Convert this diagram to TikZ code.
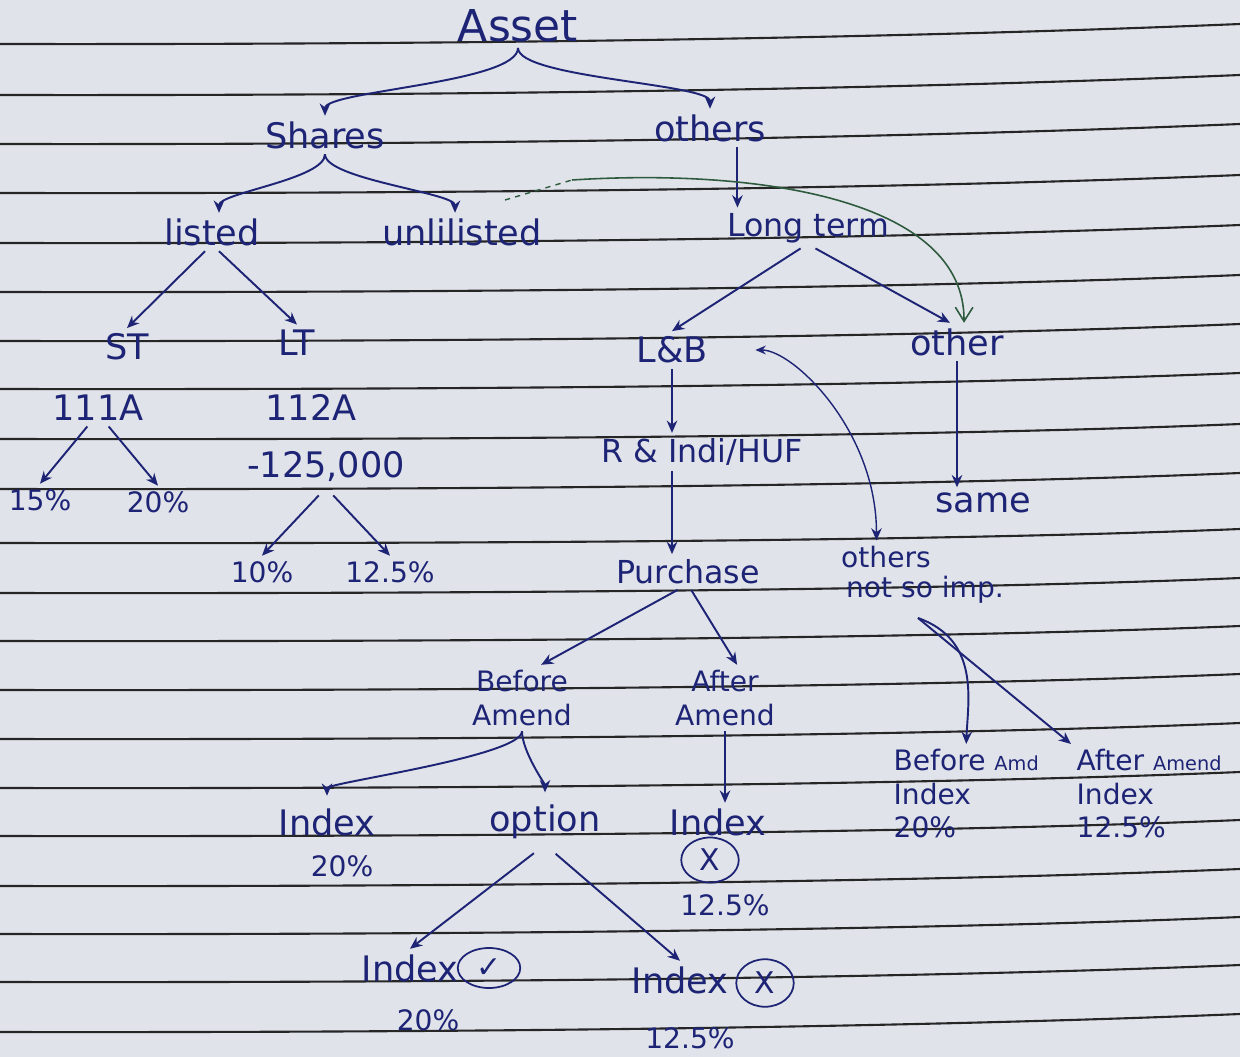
\documentclass[tikz,border=0pt]{standalone}
\usepackage{fontspec}
\setmainfont{DejaVu Sans}
\usetikzlibrary{arrows.meta,shapes.geometric}

\definecolor{ink}{HTML}{1E2475}
\definecolor{paper}{HTML}{E0E3E9}
\definecolor{pen}{HTML}{2E5A3E}

\begin{document}
\begin{tikzpicture}[x=0.02cm,y=-0.02cm,>=Stealth,
 lbl/.style={text=ink,inner sep=3pt,font=\fontsize{20}{22}\selectfont},
 sml/.style={lbl,font=\fontsize{16}{19}\selectfont},
 arr/.style={draw=ink,line width=1.1pt,-{Stealth[length=7pt,width=6pt]}},
 both/.style={arr,{Stealth[length=6pt,width=5pt]}-{Stealth[length=7pt,width=6pt]}},
 ring/.style={draw=ink,line width=1pt,ellipse,inner sep=0pt,text=ink,font=\fontsize{17}{19}\selectfont}]
\useasboundingbox (0,0) rectangle (1240,1057);
\fill[paper] (0,0) rectangle (1240,1057);
% ruled sheet, page slightly bent
\foreach \yl/\yr in {44/24,95/75,144/124,193/175,243/225,292/275,341/324,389/373,439/424,489/473,
 543/529,593/578,641/626,690/674,739/723,788/772,836/820,886/869,934/917,982/965,1032/1014}
 \draw[black!85,line width=1.2pt] (0,\yl) .. controls (600,\yl+1) and (1000,\yr+10) .. (1240,\yr);

% left part: shares
\node[lbl,font=\fontsize{25}{27}\selectfont] (asset) at (518,26) {Asset};
\node[lbl] (shares) at (325,135) {Shares};
\node[lbl] (others) at (710,128) {others};
\node[lbl] (listed) at (212,232) {listed};
\node[lbl] (unlist) at (462,232) {unlilisted};
\node[lbl] (st) at (127,347) {ST};
\node[lbl] (lt) at (297,343) {LT};
\node[lbl] (s111) at (98,408) {111A};
\node[lbl] (s112) at (311,407) {112A};
\node[sml] (p15) at (40,500) {15\%};
\node[sml] (p20) at (158,502) {20\%};
\node[lbl] (limit) at (326,467) {-125,000};
\node[sml] (p10) at (262,572) {10\%};
\node[sml] (p125) at (390,572) {12.5\%};

% right part: others
\node[lbl,font=\fontsize{18}{20}\selectfont] (longterm) at (808,228) {Long term};
\node[lbl] (lb) at (672,350) {L\&B};
\node[lbl] (other) at (957,342) {other};
\node[lbl,font=\fontsize{18}{20}\selectfont] (rindi) at (702,452) {R \& Indi/HUF};
\node[lbl] (same) at (983,503) {same};
\node[lbl,font=\fontsize{18}{20}\selectfont] (purchase) at (688,572) {Purchase};
\node[sml] (oth) at (886,557) {others};
\node[sml] (notimp) at (925,590) {not so imp.};
\node[sml,align=center] (before) at (522,698) {Before\\Amend};
\node[sml,align=center] (after) at (725,698) {After\\Amend};
\node[sml,align=left,anchor=north west] (beforer) at (888,744) {Before {\fontsize{11}{13}\selectfont Amd}\\Index\\20\%};
\node[sml,align=left,anchor=north west] (afterr) at (1071,744) {After {\fontsize{11}{13}\selectfont Amend}\\Index\\12.5\%};
\node[lbl] (idx1) at (327,822) {Index};
\node[sml] (p20b) at (342,866) {20\%};
\node[lbl] (option) at (545,822) {option};
\node[lbl] (idx2) at (718,822) {Index};
\node[ring,minimum width=1.15cm,minimum height=0.9cm] (nox1) at (710,860) {X};
\node[sml] (p125b) at (725,905) {12.5\%};
\node[lbl] (idx3) at (410,968) {Index};
\node[ring,minimum width=1.25cm,minimum height=0.8cm] (yes) at (489,968) {✓};
\node[sml] (p20c) at (428,1020) {20\%};
\node[lbl] (idx4) at (680,980) {Index};
\node[ring,minimum width=1.15cm,minimum height=0.95cm] (nox2) at (765,983) {X};
\node[sml] (p125c) at (690,1038) {12.5\%};

\draw[arr] (asset.south) .. controls +(0,35) and +(0,-25) .. (shares.north);
\draw[arr] (asset.south) .. controls +(0,30) and +(0,-25) .. (others.north);
\draw[arr] (shares.south) .. controls +(0,25) and +(0,-20) .. (listed.70);
\draw[arr] (shares.south) .. controls +(0,25) and +(0,-20) .. (unlist.110);
\draw[arr] (listed.-110)--(st.north); \draw[arr] (listed.-70)--(lt.north);
\draw[arr] (s111.-120)--(p15.north); \draw[arr] (s111.-60)--(p20.north);
\draw[arr,shorten <=6pt] (limit.south)--(p10.north); \draw[arr,shorten <=6pt] (limit.south)--(p125.north);
\draw[arr] (others.-35)--(others.-35 |- longterm.north);
\draw[arr] (longterm.-110)--(lb.north); \draw[arr] (longterm.-70)--(other.110);
\draw[arr] (lb.south)--(lb.south |- rindi.north);
\draw[arr] (rindi.south -| lb.south)--(purchase.north -| lb.south);
\draw[arr] (other.south)--(other.south |- same.north);
\draw[both,line width=0.8pt,shorten <=24pt] (lb.east) .. controls +(80,0) and +(0,-110) .. (oth.120);
\coordinate (fork) at (918,618);
\draw[arr] (fork) .. controls (980,640) and (968,700) .. (beforer.north);
\draw[arr] (fork)--(afterr.north west);
\draw[arr] (purchase.-120)--(before.60); \draw[arr] (purchase.-80)--(after.70);
\draw[arr,shorten >=4pt] (before.south) .. controls +(0,25) and +(0,-20) .. (idx1.north);
\draw[arr,shorten >=4pt] (before.south) .. controls +(0,20) and +(0,-15) .. (option.north);
\draw[arr] (after.south)--(after.south |- idx2.north);
\draw[arr,shorten <=8pt] (option.south)--(idx3.north); \draw[arr,shorten <=8pt] (option.south)--(idx4.north);
% green pen
\coordinate (gdash) at (505,200); \coordinate (gstart) at (572,180);
\draw[pen,line width=0.8pt,dashed] (gdash)--(gstart);
\draw[pen,line width=0.9pt,-{Straight Barb[length=8pt,width=10pt]}] (gstart) .. controls (760,168) and (965,200) .. (other.70);
\end{tikzpicture}
\end{document}
